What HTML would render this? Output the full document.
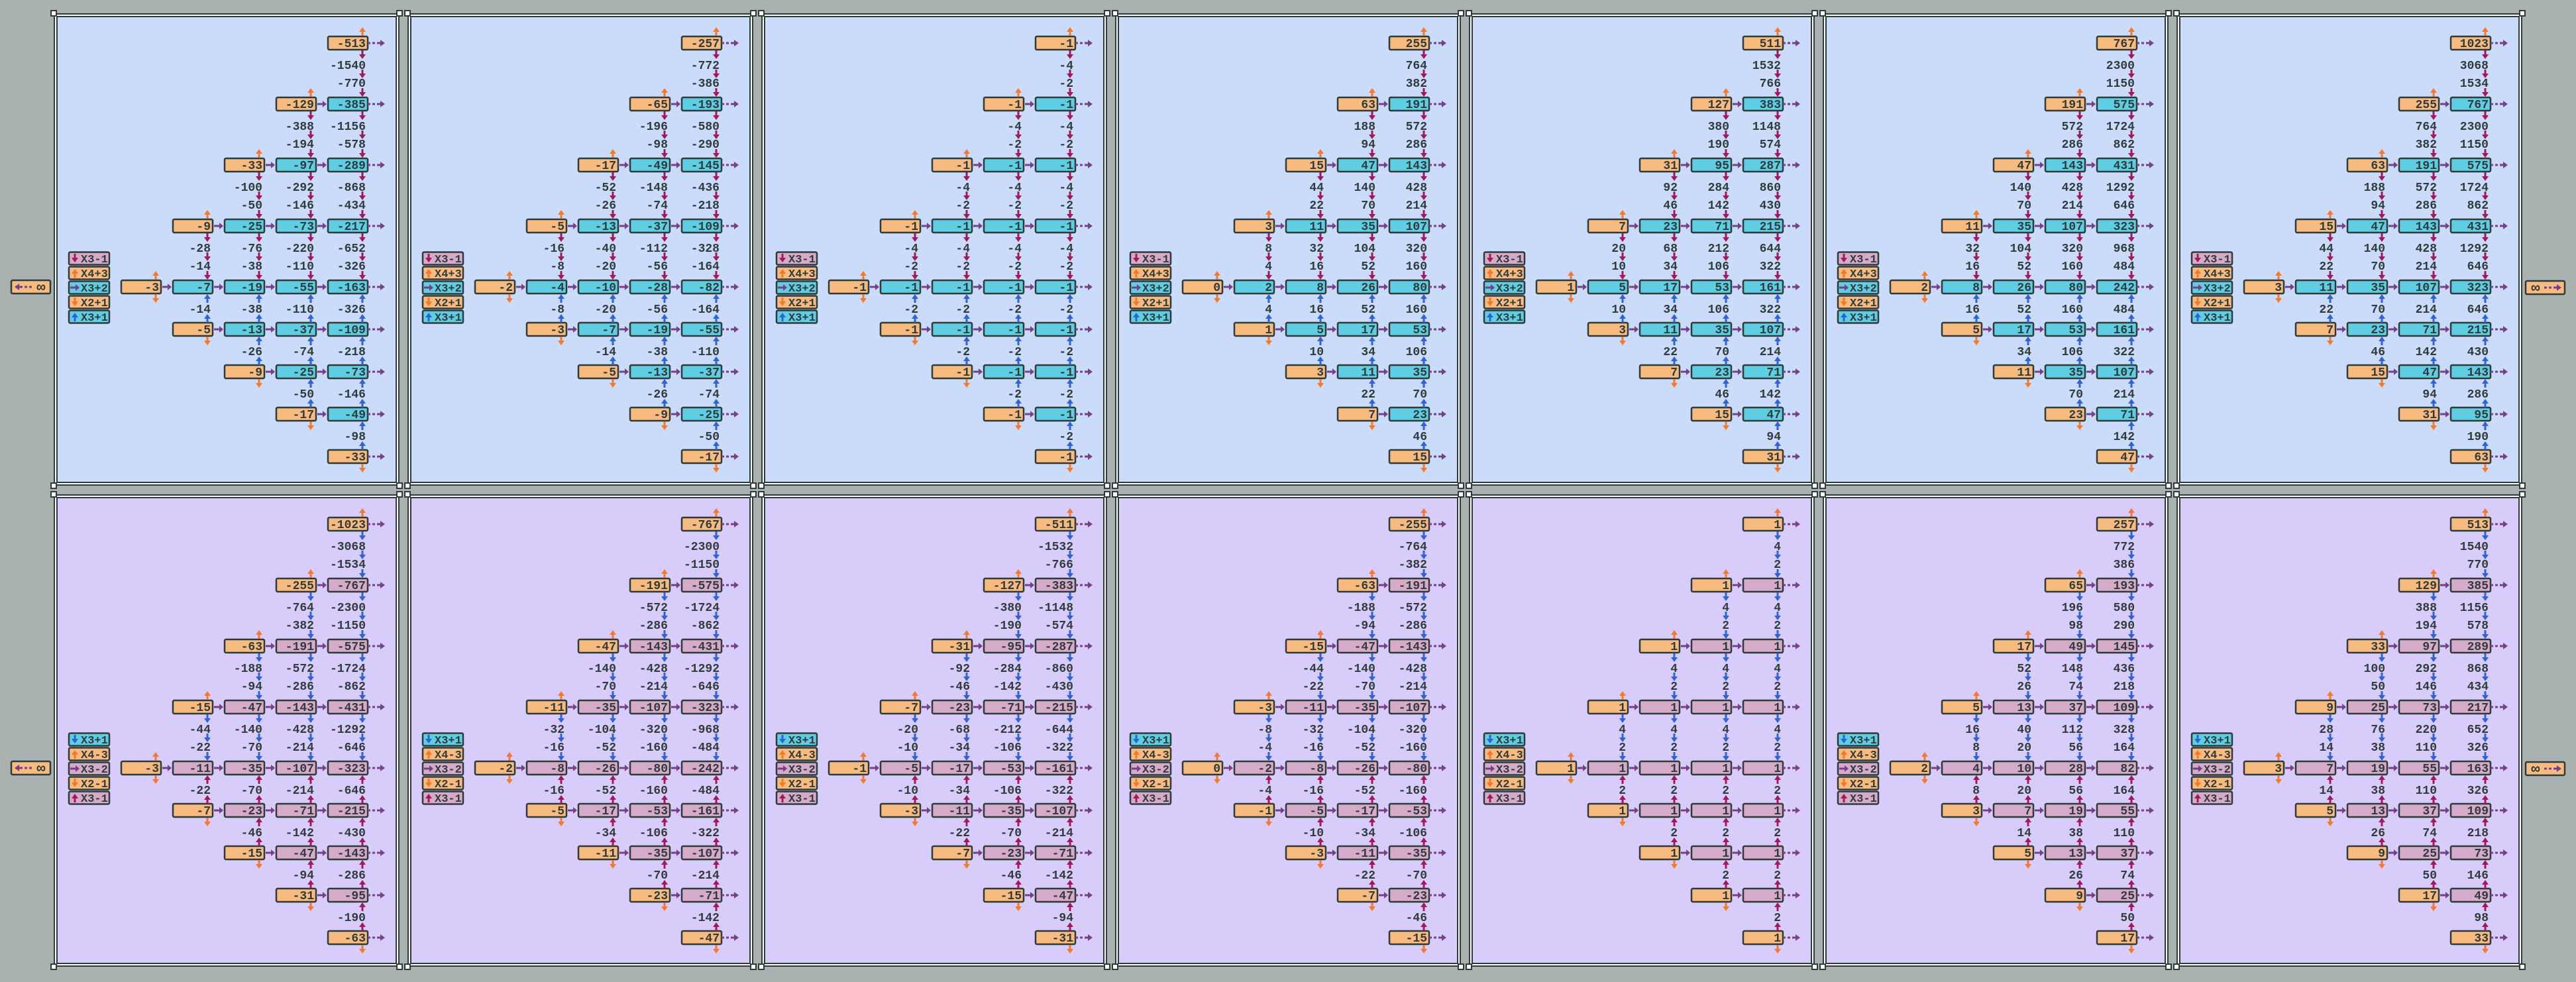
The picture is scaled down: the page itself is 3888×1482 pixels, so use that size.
<!DOCTYPE html>
<html><head><meta charset="utf-8"><style>
html,body{margin:0;padding:0;background:#a8b3b1}
svg{display:block}
text{font-family:"Liberation Mono",monospace;font-size:18px;font-weight:bold;fill:#2f3b3b}
.t text{text-anchor:end}
.lg{font-size:17px}
</style></head><body>
<svg width="3888" height="1482" viewBox="0 0 3888 1482" xmlns="http://www.w3.org/2000/svg">
<defs>
<path id="rt" d="M-14,-1.5H-6V-5L0,0L-6,5V1.5H-14Z"/>
<path id="dr" d="M-26,-1.5h4v3h-4zM-19,-1.5h4v3h-4zM-12,-1.5h5v3h-5zM-7,-5L0,0L-7,5Z"/>
<path id="dn" d="M-1.5,-7V-1H-5L0,6L5,-1H1.5V-7Z"/>
<path id="up" d="M-1.5,7V1H-5L0,-6L5,1H1.5V7Z"/>
<g id="frame">
<rect width="522" height="713" fill="#2f3b3b"/>
<rect x="2" y="2" width="518" height="709" fill="#fff"/>
<rect x="4" y="4" width="514" height="705" fill="#2f3b3b"/>
<g fill="#fff" stroke="#2f3b3b" stroke-width="2"><rect x="-4" y="-4" width="8" height="8"/><rect x="518" y="-4" width="8" height="8"/><rect x="-4" y="709" width="8" height="8"/><rect x="518" y="709" width="8" height="8"/></g>
</g>
<g id="arrows">
<g fill="#763f8a">
<use href="#dr" x="500" y="45"/><use href="#dr" x="500" y="137"/><use href="#dr" x="500" y="229"/><use href="#dr" x="500" y="321"/><use href="#dr" x="500" y="413"/><use href="#dr" x="500" y="477"/><use href="#dr" x="500" y="541"/><use href="#dr" x="500" y="605"/><use href="#dr" x="500" y="669"/>
<use href="#rt" x="412" y="137"/>
<use href="#rt" x="334" y="229"/><use href="#rt" x="412" y="229"/>
<use href="#rt" x="256" y="321"/><use href="#rt" x="334" y="321"/><use href="#rt" x="412" y="321"/>
<use href="#rt" x="178" y="413"/><use href="#rt" x="256" y="413"/><use href="#rt" x="334" y="413"/><use href="#rt" x="412" y="413"/>
<use href="#rt" x="256" y="477"/><use href="#rt" x="334" y="477"/><use href="#rt" x="412" y="477"/>
<use href="#rt" x="334" y="541"/><use href="#rt" x="412" y="541"/>
<use href="#rt" x="412" y="605"/>
</g>
<g fill="#f5782a">
<use href="#up" x="466" y="27"/><use href="#up" x="388" y="119"/><use href="#up" x="310" y="211"/><use href="#up" x="232" y="303"/><use href="#up" x="154" y="395"/>
<use href="#dn" x="154" y="431"/><use href="#dn" x="232" y="495"/><use href="#dn" x="310" y="559"/><use href="#dn" x="388" y="623"/><use href="#dn" x="466" y="687"/>
</g>
</g>
<g id="aboveArr">
<use href="#dn" x="466" y="63"/><use href="#dn" x="466" y="92"/><use href="#dn" x="466" y="120"/>
<use href="#dn" x="388" y="155"/><use href="#dn" x="388" y="184"/><use href="#dn" x="388" y="212"/>
<use href="#dn" x="466" y="155"/><use href="#dn" x="466" y="184"/><use href="#dn" x="466" y="212"/>
<use href="#dn" x="310" y="247"/><use href="#dn" x="310" y="276"/><use href="#dn" x="310" y="304"/>
<use href="#dn" x="388" y="247"/><use href="#dn" x="388" y="276"/><use href="#dn" x="388" y="304"/>
<use href="#dn" x="466" y="247"/><use href="#dn" x="466" y="276"/><use href="#dn" x="466" y="304"/>
<use href="#dn" x="232" y="339"/><use href="#dn" x="232" y="368"/><use href="#dn" x="232" y="396"/>
<use href="#dn" x="310" y="339"/><use href="#dn" x="310" y="368"/><use href="#dn" x="310" y="396"/>
<use href="#dn" x="388" y="339"/><use href="#dn" x="388" y="368"/><use href="#dn" x="388" y="396"/>
<use href="#dn" x="466" y="339"/><use href="#dn" x="466" y="368"/><use href="#dn" x="466" y="396"/>
</g>
<g id="belowArr">
<use href="#up" x="232" y="430"/><use href="#up" x="232" y="460"/><use href="#up" x="310" y="430"/><use href="#up" x="310" y="460"/><use href="#up" x="388" y="430"/><use href="#up" x="388" y="460"/><use href="#up" x="466" y="430"/><use href="#up" x="466" y="460"/>
<use href="#up" x="310" y="494"/><use href="#up" x="310" y="524"/><use href="#up" x="388" y="494"/><use href="#up" x="388" y="524"/><use href="#up" x="466" y="494"/><use href="#up" x="466" y="524"/>
<use href="#up" x="388" y="558"/><use href="#up" x="388" y="588"/><use href="#up" x="466" y="558"/><use href="#up" x="466" y="588"/>
<use href="#up" x="466" y="622"/><use href="#up" x="466" y="652"/>
</g>
<g id="orn" fill="#f7bb80" stroke="#2f3b3b" stroke-width="2.5">
<rect x="414" y="35" width="60" height="20" rx="2"/><rect x="336" y="127" width="60" height="20" rx="2"/><rect x="258" y="219" width="60" height="20" rx="2"/><rect x="180" y="311" width="60" height="20" rx="2"/><rect x="102" y="403" width="60" height="20" rx="2"/><rect x="180" y="467" width="60" height="20" rx="2"/><rect x="258" y="531" width="60" height="20" rx="2"/><rect x="336" y="595" width="60" height="20" rx="2"/><rect x="414" y="659" width="60" height="20" rx="2"/>
</g>
<g id="oth" stroke="#2f3b3b" stroke-width="2.5">
<rect x="414" y="127" width="60" height="20" rx="2"/>
<rect x="336" y="219" width="60" height="20" rx="2"/><rect x="414" y="219" width="60" height="20" rx="2"/>
<rect x="258" y="311" width="60" height="20" rx="2"/><rect x="336" y="311" width="60" height="20" rx="2"/><rect x="414" y="311" width="60" height="20" rx="2"/>
<rect x="180" y="403" width="60" height="20" rx="2"/><rect x="258" y="403" width="60" height="20" rx="2"/><rect x="336" y="403" width="60" height="20" rx="2"/><rect x="414" y="403" width="60" height="20" rx="2"/>
<rect x="258" y="467" width="60" height="20" rx="2"/><rect x="336" y="467" width="60" height="20" rx="2"/><rect x="414" y="467" width="60" height="20" rx="2"/>
<rect x="336" y="531" width="60" height="20" rx="2"/><rect x="414" y="531" width="60" height="20" rx="2"/>
<rect x="414" y="595" width="60" height="20" rx="2"/>
</g>
<g id="skT">
<use href="#frame"/>
<rect x="6" y="6" width="510" height="701" fill="#cbdbfa"/>
<g stroke="#2f3b3b" stroke-width="2.5">
<rect x="23" y="360.5" width="61" height="19" rx="2" fill="#d6abc9"/>
<rect x="23" y="382.5" width="61" height="19" rx="2" fill="#f7bb80"/>
<rect x="23" y="404.5" width="61" height="19" rx="2" fill="#5fcde2"/>
<rect x="23" y="426.5" width="61" height="19" rx="2" fill="#f7bb80"/>
<rect x="23" y="448.5" width="61" height="19" rx="2" fill="#5fcde2"/>
</g>
<use href="#dn" x="32" y="370" fill="#a3175c"/><use href="#up" x="32" y="392" fill="#f5782a"/><use href="#rt" x="39" y="414" fill="#763f8a"/><use href="#dn" x="32" y="436" fill="#f5782a"/><use href="#up" x="32" y="458" fill="#2f62d6"/>
<text class="lg" x="41" y="376">X3-1</text><text class="lg" x="41" y="398">X4+3</text><text class="lg" x="41" y="420">X3+2</text><text class="lg" x="41" y="442">X2+1</text><text class="lg" x="41" y="464">X3+1</text>
<use href="#orn"/><use href="#oth" fill="#5fcde2"/>
<use href="#arrows"/><use href="#aboveArr" fill="#a3175c"/><use href="#belowArr" fill="#2f62d6"/>
</g>
<g id="skB">
<use href="#frame"/>
<rect x="6" y="6" width="510" height="701" fill="#d8ccfa"/>
<g stroke="#2f3b3b" stroke-width="2.5">
<rect x="23" y="360.5" width="61" height="19" rx="2" fill="#5fcde2"/>
<rect x="23" y="382.5" width="61" height="19" rx="2" fill="#f7bb80"/>
<rect x="23" y="404.5" width="61" height="19" rx="2" fill="#d6abc9"/>
<rect x="23" y="426.5" width="61" height="19" rx="2" fill="#f7bb80"/>
<rect x="23" y="448.5" width="61" height="19" rx="2" fill="#d6abc9"/>
</g>
<use href="#dn" x="32" y="370" fill="#2f62d6"/><use href="#up" x="32" y="392" fill="#f5782a"/><use href="#rt" x="39" y="414" fill="#763f8a"/><use href="#dn" x="32" y="436" fill="#f5782a"/><use href="#up" x="32" y="458" fill="#a3175c"/>
<text class="lg" x="41" y="376">X3+1</text><text class="lg" x="41" y="398">X4-3</text><text class="lg" x="41" y="420">X3-2</text><text class="lg" x="41" y="442">X2-1</text><text class="lg" x="41" y="464">X3-1</text>
<use href="#orn"/><use href="#oth" fill="#d6abc9"/>
<use href="#arrows"/><use href="#aboveArr" fill="#2f62d6"/><use href="#belowArr" fill="#a3175c"/>
</g>
</defs>

<g stroke="#2f3b3b" stroke-width="2.5" fill="#f7bb80">
<rect x="17" y="423" width="59" height="20" rx="2"/><rect x="17" y="1149" width="59" height="20" rx="2"/>
<rect x="3812" y="424" width="59" height="20" rx="2"/><rect x="3812" y="1150" width="59" height="20" rx="2"/>
</g>
<g fill="#763f8a">
<use href="#dr" transform="translate(22,433) scale(-1,1)"/><use href="#dr" transform="translate(22,1159) scale(-1,1)"/>
<use href="#dr" x="3866" y="434"/><use href="#dr" x="3866" y="1160"/>
</g>
<text x="62" y="440" style="font-size:22px;text-anchor:middle">∞</text>
<text x="62" y="1166" style="font-size:22px;text-anchor:middle">∞</text>
<text x="3827" y="441" style="font-size:22px;text-anchor:middle">∞</text>
<text x="3827" y="1167" style="font-size:22px;text-anchor:middle">∞</text>

<use href="#skT" x="81" y="20"/><use href="#skT" x="615" y="20"/><use href="#skT" x="1149" y="20"/><use href="#skT" x="1683" y="20"/><use href="#skT" x="2217" y="20"/><use href="#skT" x="2751" y="20"/><use href="#skT" x="3285" y="20"/>
<use href="#skB" x="81" y="746"/><use href="#skB" x="615" y="746"/><use href="#skB" x="1149" y="746"/><use href="#skB" x="1683" y="746"/><use href="#skB" x="2217" y="746"/><use href="#skB" x="2751" y="746"/><use href="#skB" x="3285" y="746"/>

<g class="t" transform="translate(81,20)">
<text x="471" y="51">-513</text><text x="471" y="84">-1540</text><text x="471" y="111">-770</text>
<text x="393" y="143">-129</text><text x="471" y="143">-385</text><text x="393" y="176">-388</text><text x="471" y="176">-1156</text><text x="393" y="203">-194</text><text x="471" y="203">-578</text>
<text x="315" y="235">-33</text><text x="393" y="235">-97</text><text x="471" y="235">-289</text><text x="315" y="268">-100</text><text x="393" y="268">-292</text><text x="471" y="268">-868</text><text x="315" y="295">-50</text><text x="393" y="295">-146</text><text x="471" y="295">-434</text>
<text x="237" y="327">-9</text><text x="315" y="327">-25</text><text x="393" y="327">-73</text><text x="471" y="327">-217</text><text x="237" y="360">-28</text><text x="315" y="360">-76</text><text x="393" y="360">-220</text><text x="471" y="360">-652</text><text x="237" y="387">-14</text><text x="315" y="387">-38</text><text x="393" y="387">-110</text><text x="471" y="387">-326</text>
<text x="159" y="419">-3</text><text x="237" y="419">-7</text><text x="315" y="419">-19</text><text x="393" y="419">-55</text><text x="471" y="419">-163</text>
<text x="237" y="452">-14</text><text x="315" y="452">-38</text><text x="393" y="452">-110</text><text x="471" y="452">-326</text><text x="237" y="483">-5</text><text x="315" y="483">-13</text><text x="393" y="483">-37</text><text x="471" y="483">-109</text>
<text x="315" y="516">-26</text><text x="393" y="516">-74</text><text x="471" y="516">-218</text><text x="315" y="547">-9</text><text x="393" y="547">-25</text><text x="471" y="547">-73</text>
<text x="393" y="580">-50</text><text x="471" y="580">-146</text><text x="393" y="611">-17</text><text x="471" y="611">-49</text>
<text x="471" y="644">-98</text><text x="471" y="675">-33</text>
</g>

<g class="t" transform="translate(615,20)">
<text x="471" y="51">-257</text><text x="471" y="84">-772</text><text x="471" y="111">-386</text>
<text x="393" y="143">-65</text><text x="471" y="143">-193</text><text x="393" y="176">-196</text><text x="471" y="176">-580</text><text x="393" y="203">-98</text><text x="471" y="203">-290</text>
<text x="315" y="235">-17</text><text x="393" y="235">-49</text><text x="471" y="235">-145</text><text x="315" y="268">-52</text><text x="393" y="268">-148</text><text x="471" y="268">-436</text><text x="315" y="295">-26</text><text x="393" y="295">-74</text><text x="471" y="295">-218</text>
<text x="237" y="327">-5</text><text x="315" y="327">-13</text><text x="393" y="327">-37</text><text x="471" y="327">-109</text><text x="237" y="360">-16</text><text x="315" y="360">-40</text><text x="393" y="360">-112</text><text x="471" y="360">-328</text><text x="237" y="387">-8</text><text x="315" y="387">-20</text><text x="393" y="387">-56</text><text x="471" y="387">-164</text>
<text x="159" y="419">-2</text><text x="237" y="419">-4</text><text x="315" y="419">-10</text><text x="393" y="419">-28</text><text x="471" y="419">-82</text>
<text x="237" y="452">-8</text><text x="315" y="452">-20</text><text x="393" y="452">-56</text><text x="471" y="452">-164</text><text x="237" y="483">-3</text><text x="315" y="483">-7</text><text x="393" y="483">-19</text><text x="471" y="483">-55</text>
<text x="315" y="516">-14</text><text x="393" y="516">-38</text><text x="471" y="516">-110</text><text x="315" y="547">-5</text><text x="393" y="547">-13</text><text x="471" y="547">-37</text>
<text x="393" y="580">-26</text><text x="471" y="580">-74</text><text x="393" y="611">-9</text><text x="471" y="611">-25</text>
<text x="471" y="644">-50</text><text x="471" y="675">-17</text>
</g>

<g class="t" transform="translate(1149,20)">
<text x="471" y="51">-1</text><text x="471" y="84">-4</text><text x="471" y="111">-2</text>
<text x="393" y="143">-1</text><text x="471" y="143">-1</text><text x="393" y="176">-4</text><text x="471" y="176">-4</text><text x="393" y="203">-2</text><text x="471" y="203">-2</text>
<text x="315" y="235">-1</text><text x="393" y="235">-1</text><text x="471" y="235">-1</text><text x="315" y="268">-4</text><text x="393" y="268">-4</text><text x="471" y="268">-4</text><text x="315" y="295">-2</text><text x="393" y="295">-2</text><text x="471" y="295">-2</text>
<text x="237" y="327">-1</text><text x="315" y="327">-1</text><text x="393" y="327">-1</text><text x="471" y="327">-1</text><text x="237" y="360">-4</text><text x="315" y="360">-4</text><text x="393" y="360">-4</text><text x="471" y="360">-4</text><text x="237" y="387">-2</text><text x="315" y="387">-2</text><text x="393" y="387">-2</text><text x="471" y="387">-2</text>
<text x="159" y="419">-1</text><text x="237" y="419">-1</text><text x="315" y="419">-1</text><text x="393" y="419">-1</text><text x="471" y="419">-1</text>
<text x="237" y="452">-2</text><text x="315" y="452">-2</text><text x="393" y="452">-2</text><text x="471" y="452">-2</text><text x="237" y="483">-1</text><text x="315" y="483">-1</text><text x="393" y="483">-1</text><text x="471" y="483">-1</text>
<text x="315" y="516">-2</text><text x="393" y="516">-2</text><text x="471" y="516">-2</text><text x="315" y="547">-1</text><text x="393" y="547">-1</text><text x="471" y="547">-1</text>
<text x="393" y="580">-2</text><text x="471" y="580">-2</text><text x="393" y="611">-1</text><text x="471" y="611">-1</text>
<text x="471" y="644">-2</text><text x="471" y="675">-1</text>
</g>

<g class="t" transform="translate(1683,20)">
<text x="471" y="51">255</text><text x="471" y="84">764</text><text x="471" y="111">382</text>
<text x="393" y="143">63</text><text x="471" y="143">191</text><text x="393" y="176">188</text><text x="471" y="176">572</text><text x="393" y="203">94</text><text x="471" y="203">286</text>
<text x="315" y="235">15</text><text x="393" y="235">47</text><text x="471" y="235">143</text><text x="315" y="268">44</text><text x="393" y="268">140</text><text x="471" y="268">428</text><text x="315" y="295">22</text><text x="393" y="295">70</text><text x="471" y="295">214</text>
<text x="237" y="327">3</text><text x="315" y="327">11</text><text x="393" y="327">35</text><text x="471" y="327">107</text><text x="237" y="360">8</text><text x="315" y="360">32</text><text x="393" y="360">104</text><text x="471" y="360">320</text><text x="237" y="387">4</text><text x="315" y="387">16</text><text x="393" y="387">52</text><text x="471" y="387">160</text>
<text x="159" y="419">0</text><text x="237" y="419">2</text><text x="315" y="419">8</text><text x="393" y="419">26</text><text x="471" y="419">80</text>
<text x="237" y="452">4</text><text x="315" y="452">16</text><text x="393" y="452">52</text><text x="471" y="452">160</text><text x="237" y="483">1</text><text x="315" y="483">5</text><text x="393" y="483">17</text><text x="471" y="483">53</text>
<text x="315" y="516">10</text><text x="393" y="516">34</text><text x="471" y="516">106</text><text x="315" y="547">3</text><text x="393" y="547">11</text><text x="471" y="547">35</text>
<text x="393" y="580">22</text><text x="471" y="580">70</text><text x="393" y="611">7</text><text x="471" y="611">23</text>
<text x="471" y="644">46</text><text x="471" y="675">15</text>
</g>

<g class="t" transform="translate(2217,20)">
<text x="471" y="51">511</text><text x="471" y="84">1532</text><text x="471" y="111">766</text>
<text x="393" y="143">127</text><text x="471" y="143">383</text><text x="393" y="176">380</text><text x="471" y="176">1148</text><text x="393" y="203">190</text><text x="471" y="203">574</text>
<text x="315" y="235">31</text><text x="393" y="235">95</text><text x="471" y="235">287</text><text x="315" y="268">92</text><text x="393" y="268">284</text><text x="471" y="268">860</text><text x="315" y="295">46</text><text x="393" y="295">142</text><text x="471" y="295">430</text>
<text x="237" y="327">7</text><text x="315" y="327">23</text><text x="393" y="327">71</text><text x="471" y="327">215</text><text x="237" y="360">20</text><text x="315" y="360">68</text><text x="393" y="360">212</text><text x="471" y="360">644</text><text x="237" y="387">10</text><text x="315" y="387">34</text><text x="393" y="387">106</text><text x="471" y="387">322</text>
<text x="159" y="419">1</text><text x="237" y="419">5</text><text x="315" y="419">17</text><text x="393" y="419">53</text><text x="471" y="419">161</text>
<text x="237" y="452">10</text><text x="315" y="452">34</text><text x="393" y="452">106</text><text x="471" y="452">322</text><text x="237" y="483">3</text><text x="315" y="483">11</text><text x="393" y="483">35</text><text x="471" y="483">107</text>
<text x="315" y="516">22</text><text x="393" y="516">70</text><text x="471" y="516">214</text><text x="315" y="547">7</text><text x="393" y="547">23</text><text x="471" y="547">71</text>
<text x="393" y="580">46</text><text x="471" y="580">142</text><text x="393" y="611">15</text><text x="471" y="611">47</text>
<text x="471" y="644">94</text><text x="471" y="675">31</text>
</g>

<g class="t" transform="translate(2751,20)">
<text x="471" y="51">767</text><text x="471" y="84">2300</text><text x="471" y="111">1150</text>
<text x="393" y="143">191</text><text x="471" y="143">575</text><text x="393" y="176">572</text><text x="471" y="176">1724</text><text x="393" y="203">286</text><text x="471" y="203">862</text>
<text x="315" y="235">47</text><text x="393" y="235">143</text><text x="471" y="235">431</text><text x="315" y="268">140</text><text x="393" y="268">428</text><text x="471" y="268">1292</text><text x="315" y="295">70</text><text x="393" y="295">214</text><text x="471" y="295">646</text>
<text x="237" y="327">11</text><text x="315" y="327">35</text><text x="393" y="327">107</text><text x="471" y="327">323</text><text x="237" y="360">32</text><text x="315" y="360">104</text><text x="393" y="360">320</text><text x="471" y="360">968</text><text x="237" y="387">16</text><text x="315" y="387">52</text><text x="393" y="387">160</text><text x="471" y="387">484</text>
<text x="159" y="419">2</text><text x="237" y="419">8</text><text x="315" y="419">26</text><text x="393" y="419">80</text><text x="471" y="419">242</text>
<text x="237" y="452">16</text><text x="315" y="452">52</text><text x="393" y="452">160</text><text x="471" y="452">484</text><text x="237" y="483">5</text><text x="315" y="483">17</text><text x="393" y="483">53</text><text x="471" y="483">161</text>
<text x="315" y="516">34</text><text x="393" y="516">106</text><text x="471" y="516">322</text><text x="315" y="547">11</text><text x="393" y="547">35</text><text x="471" y="547">107</text>
<text x="393" y="580">70</text><text x="471" y="580">214</text><text x="393" y="611">23</text><text x="471" y="611">71</text>
<text x="471" y="644">142</text><text x="471" y="675">47</text>
</g>

<g class="t" transform="translate(3285,20)">
<text x="471" y="51">1023</text><text x="471" y="84">3068</text><text x="471" y="111">1534</text>
<text x="393" y="143">255</text><text x="471" y="143">767</text><text x="393" y="176">764</text><text x="471" y="176">2300</text><text x="393" y="203">382</text><text x="471" y="203">1150</text>
<text x="315" y="235">63</text><text x="393" y="235">191</text><text x="471" y="235">575</text><text x="315" y="268">188</text><text x="393" y="268">572</text><text x="471" y="268">1724</text><text x="315" y="295">94</text><text x="393" y="295">286</text><text x="471" y="295">862</text>
<text x="237" y="327">15</text><text x="315" y="327">47</text><text x="393" y="327">143</text><text x="471" y="327">431</text><text x="237" y="360">44</text><text x="315" y="360">140</text><text x="393" y="360">428</text><text x="471" y="360">1292</text><text x="237" y="387">22</text><text x="315" y="387">70</text><text x="393" y="387">214</text><text x="471" y="387">646</text>
<text x="159" y="419">3</text><text x="237" y="419">11</text><text x="315" y="419">35</text><text x="393" y="419">107</text><text x="471" y="419">323</text>
<text x="237" y="452">22</text><text x="315" y="452">70</text><text x="393" y="452">214</text><text x="471" y="452">646</text><text x="237" y="483">7</text><text x="315" y="483">23</text><text x="393" y="483">71</text><text x="471" y="483">215</text>
<text x="315" y="516">46</text><text x="393" y="516">142</text><text x="471" y="516">430</text><text x="315" y="547">15</text><text x="393" y="547">47</text><text x="471" y="547">143</text>
<text x="393" y="580">94</text><text x="471" y="580">286</text><text x="393" y="611">31</text><text x="471" y="611">95</text>
<text x="471" y="644">190</text><text x="471" y="675">63</text>
</g>

<g class="t" transform="translate(81,746)">
<text x="471" y="51">-1023</text><text x="471" y="84">-3068</text><text x="471" y="111">-1534</text>
<text x="393" y="143">-255</text><text x="471" y="143">-767</text><text x="393" y="176">-764</text><text x="471" y="176">-2300</text><text x="393" y="203">-382</text><text x="471" y="203">-1150</text>
<text x="315" y="235">-63</text><text x="393" y="235">-191</text><text x="471" y="235">-575</text><text x="315" y="268">-188</text><text x="393" y="268">-572</text><text x="471" y="268">-1724</text><text x="315" y="295">-94</text><text x="393" y="295">-286</text><text x="471" y="295">-862</text>
<text x="237" y="327">-15</text><text x="315" y="327">-47</text><text x="393" y="327">-143</text><text x="471" y="327">-431</text><text x="237" y="360">-44</text><text x="315" y="360">-140</text><text x="393" y="360">-428</text><text x="471" y="360">-1292</text><text x="237" y="387">-22</text><text x="315" y="387">-70</text><text x="393" y="387">-214</text><text x="471" y="387">-646</text>
<text x="159" y="419">-3</text><text x="237" y="419">-11</text><text x="315" y="419">-35</text><text x="393" y="419">-107</text><text x="471" y="419">-323</text>
<text x="237" y="452">-22</text><text x="315" y="452">-70</text><text x="393" y="452">-214</text><text x="471" y="452">-646</text><text x="237" y="483">-7</text><text x="315" y="483">-23</text><text x="393" y="483">-71</text><text x="471" y="483">-215</text>
<text x="315" y="516">-46</text><text x="393" y="516">-142</text><text x="471" y="516">-430</text><text x="315" y="547">-15</text><text x="393" y="547">-47</text><text x="471" y="547">-143</text>
<text x="393" y="580">-94</text><text x="471" y="580">-286</text><text x="393" y="611">-31</text><text x="471" y="611">-95</text>
<text x="471" y="644">-190</text><text x="471" y="675">-63</text>
</g>

<g class="t" transform="translate(615,746)">
<text x="471" y="51">-767</text><text x="471" y="84">-2300</text><text x="471" y="111">-1150</text>
<text x="393" y="143">-191</text><text x="471" y="143">-575</text><text x="393" y="176">-572</text><text x="471" y="176">-1724</text><text x="393" y="203">-286</text><text x="471" y="203">-862</text>
<text x="315" y="235">-47</text><text x="393" y="235">-143</text><text x="471" y="235">-431</text><text x="315" y="268">-140</text><text x="393" y="268">-428</text><text x="471" y="268">-1292</text><text x="315" y="295">-70</text><text x="393" y="295">-214</text><text x="471" y="295">-646</text>
<text x="237" y="327">-11</text><text x="315" y="327">-35</text><text x="393" y="327">-107</text><text x="471" y="327">-323</text><text x="237" y="360">-32</text><text x="315" y="360">-104</text><text x="393" y="360">-320</text><text x="471" y="360">-968</text><text x="237" y="387">-16</text><text x="315" y="387">-52</text><text x="393" y="387">-160</text><text x="471" y="387">-484</text>
<text x="159" y="419">-2</text><text x="237" y="419">-8</text><text x="315" y="419">-26</text><text x="393" y="419">-80</text><text x="471" y="419">-242</text>
<text x="237" y="452">-16</text><text x="315" y="452">-52</text><text x="393" y="452">-160</text><text x="471" y="452">-484</text><text x="237" y="483">-5</text><text x="315" y="483">-17</text><text x="393" y="483">-53</text><text x="471" y="483">-161</text>
<text x="315" y="516">-34</text><text x="393" y="516">-106</text><text x="471" y="516">-322</text><text x="315" y="547">-11</text><text x="393" y="547">-35</text><text x="471" y="547">-107</text>
<text x="393" y="580">-70</text><text x="471" y="580">-214</text><text x="393" y="611">-23</text><text x="471" y="611">-71</text>
<text x="471" y="644">-142</text><text x="471" y="675">-47</text>
</g>

<g class="t" transform="translate(1149,746)">
<text x="471" y="51">-511</text><text x="471" y="84">-1532</text><text x="471" y="111">-766</text>
<text x="393" y="143">-127</text><text x="471" y="143">-383</text><text x="393" y="176">-380</text><text x="471" y="176">-1148</text><text x="393" y="203">-190</text><text x="471" y="203">-574</text>
<text x="315" y="235">-31</text><text x="393" y="235">-95</text><text x="471" y="235">-287</text><text x="315" y="268">-92</text><text x="393" y="268">-284</text><text x="471" y="268">-860</text><text x="315" y="295">-46</text><text x="393" y="295">-142</text><text x="471" y="295">-430</text>
<text x="237" y="327">-7</text><text x="315" y="327">-23</text><text x="393" y="327">-71</text><text x="471" y="327">-215</text><text x="237" y="360">-20</text><text x="315" y="360">-68</text><text x="393" y="360">-212</text><text x="471" y="360">-644</text><text x="237" y="387">-10</text><text x="315" y="387">-34</text><text x="393" y="387">-106</text><text x="471" y="387">-322</text>
<text x="159" y="419">-1</text><text x="237" y="419">-5</text><text x="315" y="419">-17</text><text x="393" y="419">-53</text><text x="471" y="419">-161</text>
<text x="237" y="452">-10</text><text x="315" y="452">-34</text><text x="393" y="452">-106</text><text x="471" y="452">-322</text><text x="237" y="483">-3</text><text x="315" y="483">-11</text><text x="393" y="483">-35</text><text x="471" y="483">-107</text>
<text x="315" y="516">-22</text><text x="393" y="516">-70</text><text x="471" y="516">-214</text><text x="315" y="547">-7</text><text x="393" y="547">-23</text><text x="471" y="547">-71</text>
<text x="393" y="580">-46</text><text x="471" y="580">-142</text><text x="393" y="611">-15</text><text x="471" y="611">-47</text>
<text x="471" y="644">-94</text><text x="471" y="675">-31</text>
</g>

<g class="t" transform="translate(1683,746)">
<text x="471" y="51">-255</text><text x="471" y="84">-764</text><text x="471" y="111">-382</text>
<text x="393" y="143">-63</text><text x="471" y="143">-191</text><text x="393" y="176">-188</text><text x="471" y="176">-572</text><text x="393" y="203">-94</text><text x="471" y="203">-286</text>
<text x="315" y="235">-15</text><text x="393" y="235">-47</text><text x="471" y="235">-143</text><text x="315" y="268">-44</text><text x="393" y="268">-140</text><text x="471" y="268">-428</text><text x="315" y="295">-22</text><text x="393" y="295">-70</text><text x="471" y="295">-214</text>
<text x="237" y="327">-3</text><text x="315" y="327">-11</text><text x="393" y="327">-35</text><text x="471" y="327">-107</text><text x="237" y="360">-8</text><text x="315" y="360">-32</text><text x="393" y="360">-104</text><text x="471" y="360">-320</text><text x="237" y="387">-4</text><text x="315" y="387">-16</text><text x="393" y="387">-52</text><text x="471" y="387">-160</text>
<text x="159" y="419">0</text><text x="237" y="419">-2</text><text x="315" y="419">-8</text><text x="393" y="419">-26</text><text x="471" y="419">-80</text>
<text x="237" y="452">-4</text><text x="315" y="452">-16</text><text x="393" y="452">-52</text><text x="471" y="452">-160</text><text x="237" y="483">-1</text><text x="315" y="483">-5</text><text x="393" y="483">-17</text><text x="471" y="483">-53</text>
<text x="315" y="516">-10</text><text x="393" y="516">-34</text><text x="471" y="516">-106</text><text x="315" y="547">-3</text><text x="393" y="547">-11</text><text x="471" y="547">-35</text>
<text x="393" y="580">-22</text><text x="471" y="580">-70</text><text x="393" y="611">-7</text><text x="471" y="611">-23</text>
<text x="471" y="644">-46</text><text x="471" y="675">-15</text>
</g>

<g class="t" transform="translate(2217,746)">
<text x="471" y="51">1</text><text x="471" y="84">4</text><text x="471" y="111">2</text>
<text x="393" y="143">1</text><text x="471" y="143">1</text><text x="393" y="176">4</text><text x="471" y="176">4</text><text x="393" y="203">2</text><text x="471" y="203">2</text>
<text x="315" y="235">1</text><text x="393" y="235">1</text><text x="471" y="235">1</text><text x="315" y="268">4</text><text x="393" y="268">4</text><text x="471" y="268">4</text><text x="315" y="295">2</text><text x="393" y="295">2</text><text x="471" y="295">2</text>
<text x="237" y="327">1</text><text x="315" y="327">1</text><text x="393" y="327">1</text><text x="471" y="327">1</text><text x="237" y="360">4</text><text x="315" y="360">4</text><text x="393" y="360">4</text><text x="471" y="360">4</text><text x="237" y="387">2</text><text x="315" y="387">2</text><text x="393" y="387">2</text><text x="471" y="387">2</text>
<text x="159" y="419">1</text><text x="237" y="419">1</text><text x="315" y="419">1</text><text x="393" y="419">1</text><text x="471" y="419">1</text>
<text x="237" y="452">2</text><text x="315" y="452">2</text><text x="393" y="452">2</text><text x="471" y="452">2</text><text x="237" y="483">1</text><text x="315" y="483">1</text><text x="393" y="483">1</text><text x="471" y="483">1</text>
<text x="315" y="516">2</text><text x="393" y="516">2</text><text x="471" y="516">2</text><text x="315" y="547">1</text><text x="393" y="547">1</text><text x="471" y="547">1</text>
<text x="393" y="580">2</text><text x="471" y="580">2</text><text x="393" y="611">1</text><text x="471" y="611">1</text>
<text x="471" y="644">2</text><text x="471" y="675">1</text>
</g>

<g class="t" transform="translate(2751,746)">
<text x="471" y="51">257</text><text x="471" y="84">772</text><text x="471" y="111">386</text>
<text x="393" y="143">65</text><text x="471" y="143">193</text><text x="393" y="176">196</text><text x="471" y="176">580</text><text x="393" y="203">98</text><text x="471" y="203">290</text>
<text x="315" y="235">17</text><text x="393" y="235">49</text><text x="471" y="235">145</text><text x="315" y="268">52</text><text x="393" y="268">148</text><text x="471" y="268">436</text><text x="315" y="295">26</text><text x="393" y="295">74</text><text x="471" y="295">218</text>
<text x="237" y="327">5</text><text x="315" y="327">13</text><text x="393" y="327">37</text><text x="471" y="327">109</text><text x="237" y="360">16</text><text x="315" y="360">40</text><text x="393" y="360">112</text><text x="471" y="360">328</text><text x="237" y="387">8</text><text x="315" y="387">20</text><text x="393" y="387">56</text><text x="471" y="387">164</text>
<text x="159" y="419">2</text><text x="237" y="419">4</text><text x="315" y="419">10</text><text x="393" y="419">28</text><text x="471" y="419">82</text>
<text x="237" y="452">8</text><text x="315" y="452">20</text><text x="393" y="452">56</text><text x="471" y="452">164</text><text x="237" y="483">3</text><text x="315" y="483">7</text><text x="393" y="483">19</text><text x="471" y="483">55</text>
<text x="315" y="516">14</text><text x="393" y="516">38</text><text x="471" y="516">110</text><text x="315" y="547">5</text><text x="393" y="547">13</text><text x="471" y="547">37</text>
<text x="393" y="580">26</text><text x="471" y="580">74</text><text x="393" y="611">9</text><text x="471" y="611">25</text>
<text x="471" y="644">50</text><text x="471" y="675">17</text>
</g>

<g class="t" transform="translate(3285,746)">
<text x="471" y="51">513</text><text x="471" y="84">1540</text><text x="471" y="111">770</text>
<text x="393" y="143">129</text><text x="471" y="143">385</text><text x="393" y="176">388</text><text x="471" y="176">1156</text><text x="393" y="203">194</text><text x="471" y="203">578</text>
<text x="315" y="235">33</text><text x="393" y="235">97</text><text x="471" y="235">289</text><text x="315" y="268">100</text><text x="393" y="268">292</text><text x="471" y="268">868</text><text x="315" y="295">50</text><text x="393" y="295">146</text><text x="471" y="295">434</text>
<text x="237" y="327">9</text><text x="315" y="327">25</text><text x="393" y="327">73</text><text x="471" y="327">217</text><text x="237" y="360">28</text><text x="315" y="360">76</text><text x="393" y="360">220</text><text x="471" y="360">652</text><text x="237" y="387">14</text><text x="315" y="387">38</text><text x="393" y="387">110</text><text x="471" y="387">326</text>
<text x="159" y="419">3</text><text x="237" y="419">7</text><text x="315" y="419">19</text><text x="393" y="419">55</text><text x="471" y="419">163</text>
<text x="237" y="452">14</text><text x="315" y="452">38</text><text x="393" y="452">110</text><text x="471" y="452">326</text><text x="237" y="483">5</text><text x="315" y="483">13</text><text x="393" y="483">37</text><text x="471" y="483">109</text>
<text x="315" y="516">26</text><text x="393" y="516">74</text><text x="471" y="516">218</text><text x="315" y="547">9</text><text x="393" y="547">25</text><text x="471" y="547">73</text>
<text x="393" y="580">50</text><text x="471" y="580">146</text><text x="393" y="611">17</text><text x="471" y="611">49</text>
<text x="471" y="644">98</text><text x="471" y="675">33</text>
</g>
</svg>
</body></html>
